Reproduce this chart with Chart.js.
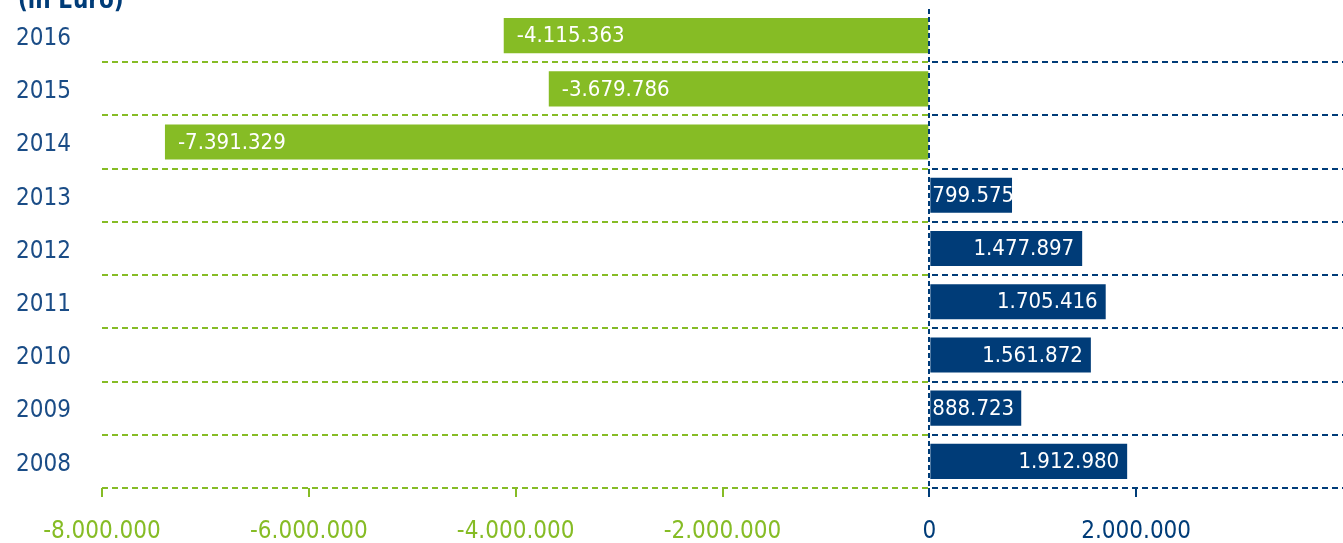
<!DOCTYPE html>
<html><head><meta charset="utf-8">
<script src="https://cdn.jsdelivr.net/npm/chart.js@4"></script>
<style>html,body{margin:0;padding:0;background:#fff;}#wrap{width:1343px;height:543px;}</style>
</head><body><div id="wrap"><canvas id="c" width="1343" height="543"></canvas></div>
<script>
const years = ['2016','2015','2014','2013','2012','2011','2010','2009','2008'];
const values = [-4115363, -3679786, -7391329, 799575, 1477897, 1705416, 1561872, 888723, 1912980];
const xTickValues = [-8000000, -6000000, -4000000, -2000000, 0, 2000000, 4000000];
const unitLabel = '(in Euro)';

const GREEN = '#86bc25';
const NAVY = '#003c78';
const FONT = "'Liberation Sans Narrow','DejaVu Sans Condensed','Roboto Condensed',Roboto,sans-serif";

function fmt(v){
  const neg = v < 0; let s = Math.abs(Math.round(v)).toString();
  s = s.replace(/\B(?=(\d{3})+(?!\d))/g, '.');
  return (neg ? '-' : '') + s;
}

const labelPlugin = {
  id: 'barLabels',
  afterDatasetsDraw(chart){
    const c = chart.ctx; const meta = chart.getDatasetMeta(0); const x0 = chart.scales.x.getPixelForValue(0);
    c.save(); c.font = '22px ' + FONT; c.fillStyle = '#fff'; c.textBaseline = 'middle';
    meta.data.forEach((bar, i) => {
      const v = values[i]; const t = fmt(v); const w = c.measureText(t).width;
      if (v < 0) { c.textAlign = 'left'; c.fillText(t, bar.x + 13, bar.y + 1); }
      else { c.textAlign = 'right'; c.fillText(t, Math.max(bar.x - 8, x0 + 3 + w), bar.y + 1); }
    });
    c.restore();
  },
  afterDraw(chart){
    const c = chart.ctx; c.save(); c.font = 'bold 24px ' + FONT; c.fillStyle = NAVY; c.textAlign = 'left'; c.textBaseline = 'alphabetic';
    c.fillText(unitLabel, 18, 8); c.restore();
  }
};

new Chart(document.getElementById('c'), {
  type: 'bar',
  data: { labels: years, datasets: [{ data: values, backgroundColor: values.map(v => v < 0 ? GREEN : NAVY), barPercentage: 0.66, categoryPercentage: 1 }] },
  options: {
    indexAxis: 'y', responsive: false, animation: false,
    layout: { padding: { top: 9, right: 0, left: 0, bottom: 0 } },
    plugins: { legend: { display: false }, tooltip: { enabled: false } },
    scales: {
      x: {
        min: -8000000, max: 4000000,
        afterBuildTicks(scale){ scale.ticks = xTickValues.map(v => ({ value: v })); },
        afterFit(scale){ scale.height = 55; scale.paddingLeft = 0; scale.paddingRight = 0; },
        border: { display: false, dash: [5, 3] },
        grid: {
          color: ctx => (ctx.tick && ctx.tick.value === 0) ? NAVY : 'rgba(0,0,0,0)',
          tickColor: ctx => (!ctx.tick || ctx.tick.value >= 4000000) ? 'rgba(0,0,0,0)' : (ctx.tick.value < 0 ? GREEN : NAVY),
          lineWidth: 2, tickWidth: 2, tickLength: 9,
          tickBorderDash: [], z: 1
        },
        ticks: {
          autoSkip: false, maxRotation: 0, padding: 20,
          font: { family: FONT, size: 24 },
          color: ctx => (ctx.tick && ctx.tick.value < 0) ? GREEN : NAVY,
          callback: v => (v >= 4000000 ? '' : fmt(v))
        }
      },
      y: {
        afterFit(scale){ scale.width = 102; scale.paddingTop = 0; scale.paddingBottom = 0; },
        border: { display: false, dash: [6, 4] },
        grid: {
          offset: true, drawTicks: false, tickLength: 0, lineWidth: 2,
          color: ctx => {
            if (ctx.index === 0) return 'rgba(0,0,0,0)';
            const chart = ctx.chart; const a = chart.chartArea;
            if (!a || !chart.scales.x) return GREEN;
            const x0 = chart.scales.x.getPixelForValue(0);
            const s = Math.min(1, Math.max(0, (x0 - a.left) / (a.right - a.left)));
            const g = chart.ctx.createLinearGradient(a.left, 0, a.right, 0);
            g.addColorStop(0, GREEN); g.addColorStop(s, GREEN); g.addColorStop(s, NAVY); g.addColorStop(1, NAVY);
            return g;
          }
        },
        ticks: { padding: 31, labelOffset: 3, font: { family: FONT, size: 24 }, color: '#1a4c86' }
      }
    }
  },
  plugins: [labelPlugin]
});
</script></body></html>
